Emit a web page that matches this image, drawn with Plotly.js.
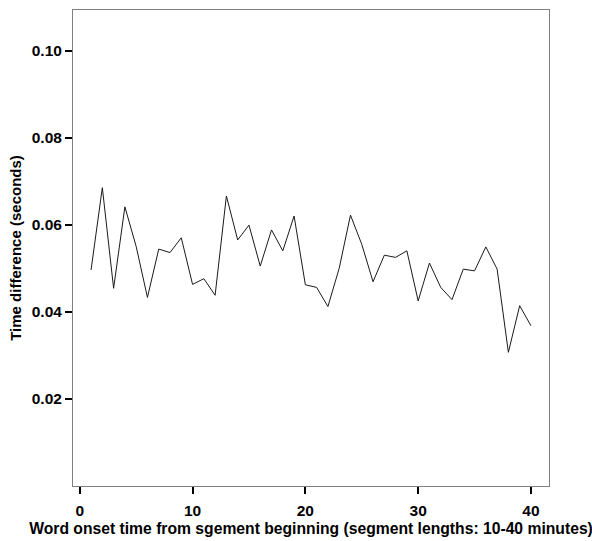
<!DOCTYPE html>
<html>
<head>
<meta charset="utf-8">
<script src="https://cdn.plot.ly/plotly-3.0.1.min.js"></script>
<style>html,body{margin:0;padding:0;background:#fff;}#chart{width:592px;height:541px;}</style>
</head>
<body>
<div id="chart"></div>
<script>
var minutes = [1,2,3,4,5,6,7,8,9,10,11,12,13,14,15,16,17,18,19,20,21,22,23,24,25,26,27,28,29,30,31,32,33,34,35,36,37,38,39,40];
var timeDiff = [0.0496,0.0685,0.0454,0.0641,0.0550,0.0433,0.0544,0.0536,0.0570,0.0463,
                0.0476,0.0438,0.0666,0.0565,0.0599,0.0505,0.0588,0.0540,0.0620,0.0462,
                0.0456,0.0412,0.0500,0.0622,0.0555,0.0469,0.0530,0.0525,0.0540,0.0425,
                0.0512,0.0456,0.0428,0.0498,0.0494,0.0549,0.0498,0.0307,0.0414,0.0368];
var xTicks = [0,10,20,30,40];
var yTicks = [0.02,0.04,0.06,0.08,0.10];
var yTickLabels = ["0.02","0.04","0.06","0.08","0.10"];

var fam = "Liberation Sans, Arial, sans-serif";

var trace = {
  x: minutes, y: timeDiff, type: "scatter", mode: "lines",
  line: {color: "#1a1a1a", width: 1}, hoverinfo: "skip"
};

var layout = {
  width: 592, height: 541,
  margin: {l: 73, r: 43, t: 10, b: 55},
  paper_bgcolor: "#fff", plot_bgcolor: "#fff",
  showlegend: false,
  font: {family: fam, size: 15, color: "#000"},
  xaxis: {
    range: [-0.6, 41.6], tickvals: xTicks, ticktext: xTicks.map(String),
    ticks: "outside", ticklen: 7, tickwidth: 2, tickcolor: "#000",
    ticklabelstandoff: 3,
    showline: true, linecolor: "#808080", linewidth: 1, mirror: true,
    showgrid: false, zeroline: false,
    tickfont: {family: fam, size: 15.5, color: "#000", weight: "bold"},
    title: {text: "Word onset time from sgement beginning (segment lengths: 10-40 minutes)",
            font: {family: fam, size: 15.7, color: "#000", weight: "bold"}, standoff: 5}
  },
  yaxis: {
    range: [0, 0.1093], tickvals: yTicks, ticktext: yTickLabels,
    ticks: "outside", ticklen: 7, tickwidth: 2, tickcolor: "#000",
    showline: true, linecolor: "#808080", linewidth: 1, mirror: true,
    showgrid: false, zeroline: false,
    tickfont: {family: fam, size: 15.5, color: "#000", weight: "bold"},
    title: {text: "Time difference (seconds)",
            font: {family: fam, size: 15, color: "#000", weight: "bold"}, standoff: 6}
  }
};

Plotly.newPlot("chart", [trace], layout, {staticPlot: true, displayModeBar: false});
</script>
</body>
</html>
